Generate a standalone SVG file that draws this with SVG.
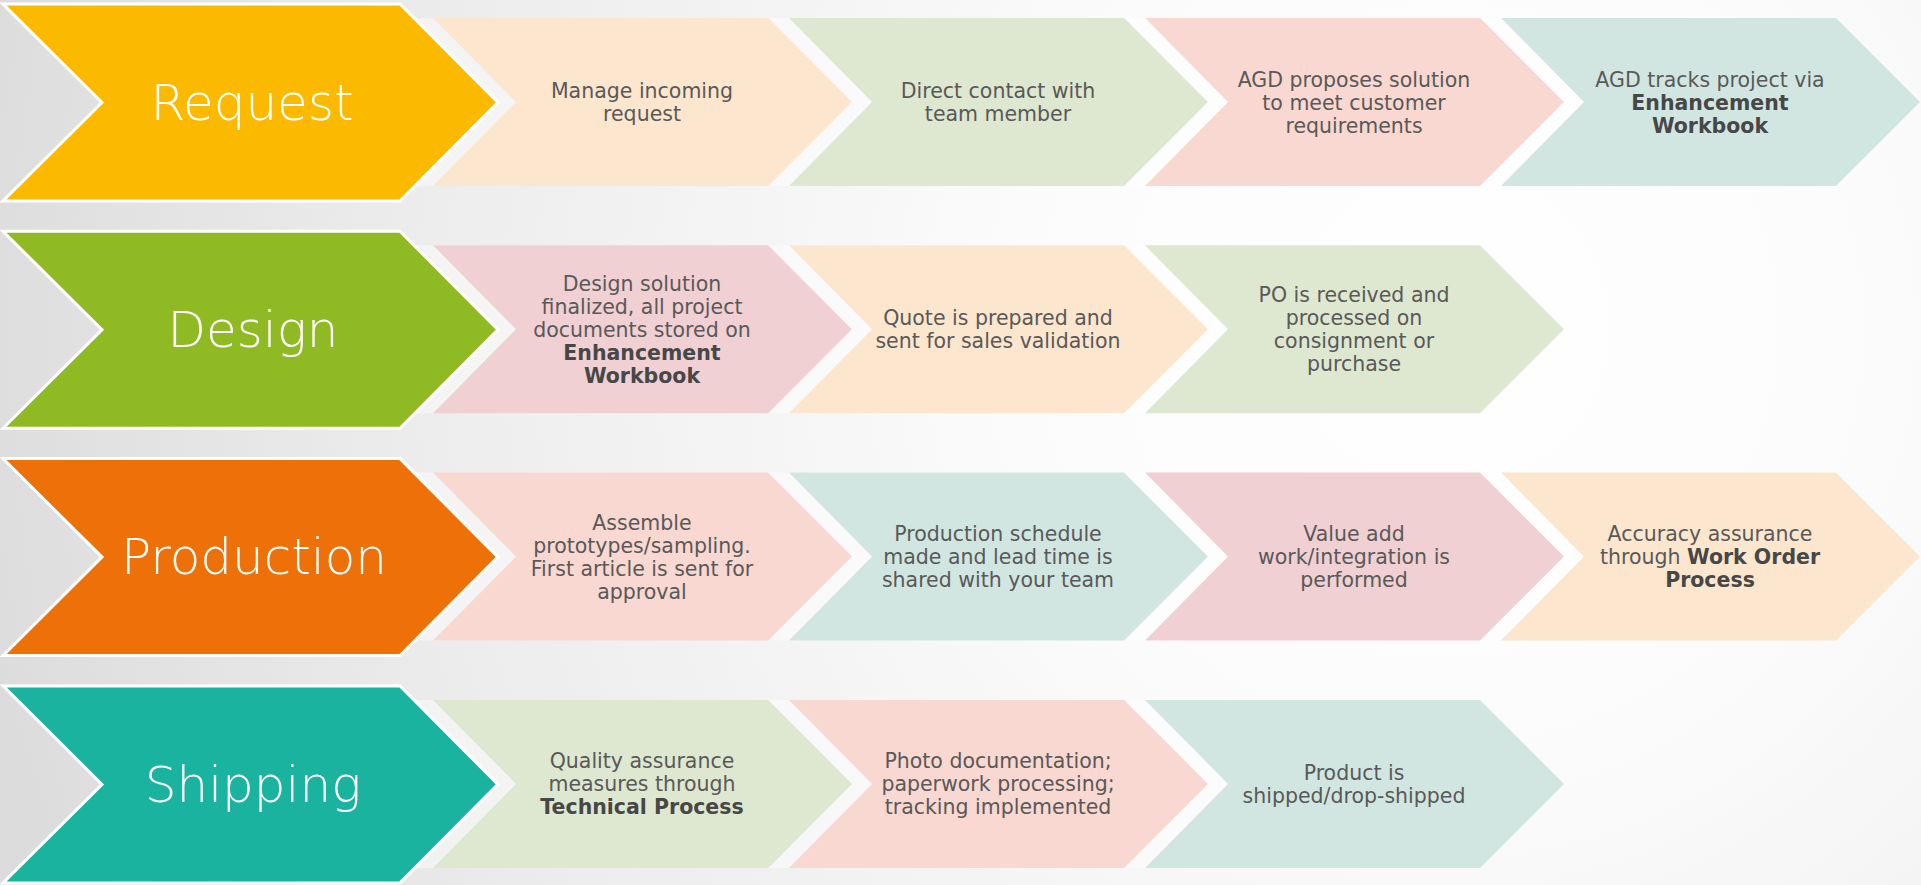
<svg xmlns="http://www.w3.org/2000/svg" xmlns:xlink="http://www.w3.org/1999/xlink" width="1921" height="885" viewBox="0 0 1921 885">
<defs>
<radialGradient id="bg" cx="1450" cy="330" r="1500" gradientUnits="userSpaceOnUse">
<stop offset="0" stop-color="#ffffff"/>
<stop offset="0.3" stop-color="#fbfbfb"/>
<stop offset="0.7" stop-color="#ececec"/>
<stop offset="1" stop-color="#dcdcdc"/>
</radialGradient>
<polygon id="big" points="0,0 397,0 495,98.5 397,197 0,197 99,98.5"/>
<polygon id="box" points="0,0 335,0 419,84 335,168 0,168 83,84"/>
<style>
.big{stroke:#ffffff;stroke-width:3;stroke-linejoin:miter}
.halo{fill:#ffffff;fill-opacity:0.42}
.title{font-family:"DejaVu Sans",sans-serif;font-weight:200;font-size:50px;fill:#ffffff;text-anchor:middle}
.t{font-family:"DejaVu Sans",sans-serif;font-size:20.5px;fill:#595959;text-anchor:middle}
.b{font-weight:bold;fill:#474747}
.peach{fill:#fce6ce}
.green{fill:#dee7cf}
.salmon{fill:#f8d8d0}
.mint{fill:#d1e6e0}
.pink{fill:#f0d0d2}
</style>
</defs>
<rect x="0" y="0" width="1921" height="885" fill="url(#bg)"/>

<!-- Row 1 -->
<g id="request">
<use xlink:href="#big" x="3" y="4" class="big" fill="#fbba00"/>
<text class="title" x="252" y="120">Request</text>
</g>
<g id="r1b1">
<use xlink:href="#box" x="413" y="18" class="halo"/>
<use xlink:href="#box" x="433" y="18" class="peach"/>
<text class="t" x="642" y="98">Manage incoming</text>
<text class="t" x="642" y="121">request</text>
</g>
<g id="r1b2">
<use xlink:href="#box" x="769" y="18" class="halo"/>
<use xlink:href="#box" x="789" y="18" class="green"/>
<text class="t" x="998" y="98">Direct contact with</text>
<text class="t" x="998" y="121">team member</text>
</g>
<g id="r1b3">
<use xlink:href="#box" x="1125" y="18" class="halo"/>
<use xlink:href="#box" x="1145" y="18" class="salmon"/>
<text class="t" x="1354" y="86.5">AGD proposes solution</text>
<text class="t" x="1354" y="109.5">to meet customer</text>
<text class="t" x="1354" y="132.5">requirements</text>
</g>
<g id="r1b4">
<use xlink:href="#box" x="1481" y="18" class="halo"/>
<use xlink:href="#box" x="1501" y="18" class="mint"/>
<text class="t" x="1710" y="86.5">AGD tracks project via</text>
<text class="t b" x="1710" y="109.5">Enhancement</text>
<text class="t b" x="1710" y="132.5">Workbook</text>
</g>

<!-- Row 2 -->
<g id="design">
<use xlink:href="#big" x="3" y="231.3" class="big" fill="#90ba24"/>
<text class="title" x="253" y="347">Design</text>
</g>
<g id="r2b1">
<use xlink:href="#box" x="413" y="245.3" class="halo"/>
<use xlink:href="#box" x="433" y="245.3" class="pink"/>
<text class="t" x="642" y="290.8">Design solution</text>
<text class="t" x="642" y="313.8">finalized, all project</text>
<text class="t" x="642" y="336.8">documents stored on</text>
<text class="t b" x="642" y="359.8">Enhancement</text>
<text class="t b" x="642" y="382.8">Workbook</text>
</g>
<g id="r2b2">
<use xlink:href="#box" x="769" y="245.3" class="halo"/>
<use xlink:href="#box" x="789" y="245.3" class="peach"/>
<text class="t" x="998" y="325.3">Quote is prepared and</text>
<text class="t" x="998" y="348.3">sent for sales validation</text>
</g>
<g id="r2b3">
<use xlink:href="#box" x="1125" y="245.3" class="halo"/>
<use xlink:href="#box" x="1145" y="245.3" class="green"/>
<text class="t" x="1354" y="302.3">PO is received and</text>
<text class="t" x="1354" y="325.3">processed on</text>
<text class="t" x="1354" y="348.3">consignment or</text>
<text class="t" x="1354" y="371.3">purchase</text>
</g>

<!-- Row 3 -->
<g id="production">
<use xlink:href="#big" x="3" y="458.6" class="big" fill="#ee7009"/>
<text class="title" x="254" y="574">Production</text>
</g>
<g id="r3b1">
<use xlink:href="#box" x="413" y="472.6" class="halo"/>
<use xlink:href="#box" x="433" y="472.6" class="salmon"/>
<text class="t" x="642" y="529.6">Assemble</text>
<text class="t" x="642" y="552.6">prototypes/sampling.</text>
<text class="t" x="642" y="575.6">First article is sent for</text>
<text class="t" x="642" y="598.6">approval</text>
</g>
<g id="r3b2">
<use xlink:href="#box" x="769" y="472.6" class="halo"/>
<use xlink:href="#box" x="789" y="472.6" class="mint"/>
<text class="t" x="998" y="541.1">Production schedule</text>
<text class="t" x="998" y="564.1">made and lead time is</text>
<text class="t" x="998" y="587.1">shared with your team</text>
</g>
<g id="r3b3">
<use xlink:href="#box" x="1125" y="472.6" class="halo"/>
<use xlink:href="#box" x="1145" y="472.6" class="pink"/>
<text class="t" x="1354" y="541.1">Value add</text>
<text class="t" x="1354" y="564.1">work/integration is</text>
<text class="t" x="1354" y="587.1">performed</text>
</g>
<g id="r3b4">
<use xlink:href="#box" x="1481" y="472.6" class="halo"/>
<use xlink:href="#box" x="1501" y="472.6" class="peach"/>
<text class="t" x="1710" y="541.1">Accuracy assurance</text>
<text class="t" x="1710" y="564.1">through <tspan class="b">Work Order</tspan></text>
<text class="t b" x="1710" y="587.1">Process</text>
</g>

<!-- Row 4 -->
<g id="shipping">
<use xlink:href="#big" x="3" y="685.9" class="big" fill="#1ab39f"/>
<text class="title" x="253" y="801.5">Shipping</text>
</g>
<g id="r4b1">
<use xlink:href="#box" x="413" y="699.9" class="halo"/>
<use xlink:href="#box" x="433" y="699.9" class="green"/>
<text class="t" x="642" y="768.4">Quality assurance</text>
<text class="t" x="642" y="791.4">measures through</text>
<text class="t b" x="642" y="814.4">Technical Process</text>
</g>
<g id="r4b2">
<use xlink:href="#box" x="769" y="699.9" class="halo"/>
<use xlink:href="#box" x="789" y="699.9" class="salmon"/>
<text class="t" x="998" y="768.4">Photo documentation;</text>
<text class="t" x="998" y="791.4">paperwork processing;</text>
<text class="t" x="998" y="814.4">tracking implemented</text>
</g>
<g id="r4b3">
<use xlink:href="#box" x="1125" y="699.9" class="halo"/>
<use xlink:href="#box" x="1145" y="699.9" class="mint"/>
<text class="t" x="1354" y="779.9">Product is</text>
<text class="t" x="1354" y="802.9">shipped/drop-shipped</text>
</g>
</svg>
